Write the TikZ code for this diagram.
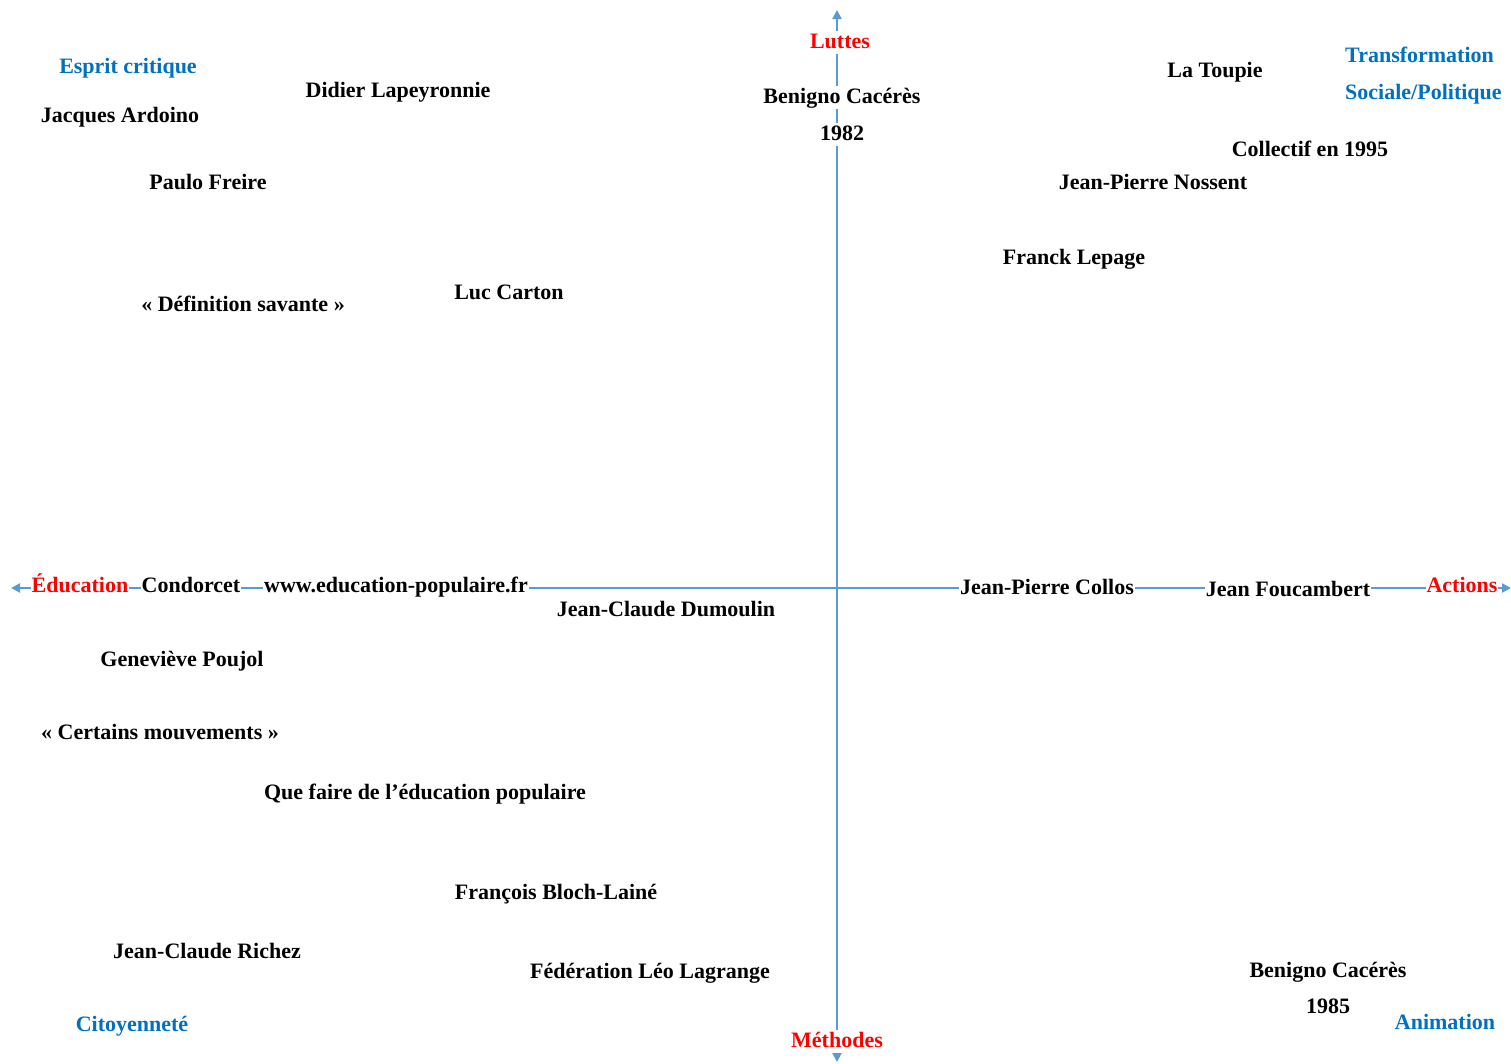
\documentclass[tikz,border=0pt]{standalone}
\usepackage{fontspec}
\setmainfont{Liberation Serif}
\usetikzlibrary{arrows.meta}
\definecolor{axisblue}{HTML}{5B9BD5}
\definecolor{qblue}{HTML}{0070C0}
\definecolor{axred}{HTML}{FF0000}
\newcommand{\lbfont}{\fontsize{22}{25}\selectfont\bfseries}
\tikzset{
  lbl/.style={font=\lbfont, inner sep=1pt, text height=16pt, text depth=5pt, anchor=base},
  onaxis/.style={lbl, fill=white},
  axlbl/.style={onaxis, text=axred},
  qlbl/.style={lbl, text=qblue},
  axisline/.style={draw=axisblue, line width=2pt, -{Triangle[length=9pt,width=9pt]}}
}
\begin{document}
\begin{tikzpicture}[x=1pt,y=-1pt]
\useasboundingbox (0,0) rectangle (1511,1063);
% axis end points
\coordinate (top) at (837,10);
\coordinate (bot) at (837,1062);
\coordinate (left) at (11,588);
\coordinate (right) at (1511,588);
\coordinate (origin) at (837,588);
\draw[axisline] (origin) -- (top);
\draw[axisline] (origin) -- (bot);
\draw[axisline] (origin) -- (left);
\draw[axisline] (origin) -- (right);
% labels on vertical axis
\node[axlbl] (luttes) at (840,48) {Luttes};
\node[onaxis] (bc82) at (842,103) {Benigno Cacérès};
\node[onaxis] (y82) at (842,140) {1982};
\node[axlbl] (methodes) at (837,1047) {Méthodes};
% labels on horizontal axis
\node[axlbl] (educ) at (80,592) {Éducation};
\node[onaxis] (condorcet) at (191,592) {Condorcet};
\node[onaxis] (www) at (396,592) {www.education-populaire.fr};
\node[onaxis] (collos) at (1047,594) {Jean-Pierre Collos};
\node[onaxis] (foucambert) at (1288,596) {Jean Foucambert};
\node[axlbl] (actions) at (1462,592) {Actions};
% quadrant labels
\node[qlbl] (esprit) at (128,73) {Esprit critique};
\node[qlbl, anchor=base west] (transf) at (1344,62) {Transformation};
\node[qlbl, anchor=base west] (sociale) at (1344,99) {Sociale/Politique};
\node[qlbl] (citoy) at (132,1031) {Citoyenneté};
\node[qlbl] (anim) at (1445,1029) {Animation};
% top-left
\node[lbl] (ardoino) at (120,122) {Jacques Ardoino};
\node[lbl] (lapeyronnie) at (398,97) {Didier Lapeyronnie};
\node[lbl] (freire) at (208,189) {Paulo Freire};
\node[lbl] (defsav) at (243,311) {« Définition savante »};
\node[lbl] (carton) at (509,299) {Luc Carton};
% top-right
\node[lbl] (toupie) at (1215,77) {La Toupie};
\node[lbl] (collectif) at (1310,156) {Collectif en 1995};
\node[lbl] (nossent) at (1153,189) {Jean-Pierre Nossent};
\node[lbl] (lepage) at (1074,264) {Franck Lepage};
% bottom-left
\node[lbl] (dumoulin) at (666,616) {Jean-Claude Dumoulin};
\node[lbl] (poujol) at (182,666) {Geneviève Poujol};
\node[lbl] (certains) at (160,739) {« Certains mouvements »};
\node[lbl] (quefaire) at (425,799) {Que faire de l’éducation populaire};
\node[lbl] (bloch) at (556,899) {François Bloch-Lainé};
\node[lbl] (richez) at (207,958) {Jean-Claude Richez};
\node[lbl] (leo) at (650,978) {Fédération Léo Lagrange};
% bottom-right
\node[lbl] (bc85) at (1328,977) {Benigno Cacérès};
\node[lbl] (y85) at (1328,1013) {1985};
\end{tikzpicture}
\end{document}
